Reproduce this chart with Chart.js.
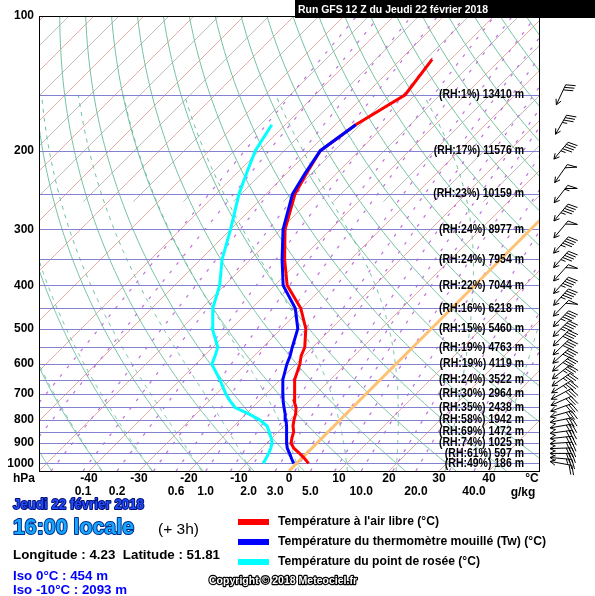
<!DOCTYPE html>
<html lang="fr">
<head>
<meta charset="UTF-8">
<title>Sondage GFS</title>
<script src="https://cdn.jsdelivr.net/npm/chart.js"></script>
<style>
  body { margin: 0; background: #fff; }
</style>
</head>
<body>
<canvas id="skewt" width="595" height="596"></canvas>
<script>
// niveaux de pression (hPa) et profils (°C)
const levels   = [1000, 975, 950, 925, 900, 875, 850, 825, 800, 775, 750, 725, 700, 650, 600, 575, 550, 500, 450, 400, 350, 300, 250, 225, 200, 175, 150, 125];
const tempAir  = [2.4, 0.6, -1.4, -3.6, -5.2, -6.1, -6.9, -8.2, -9.2, -10.1, -11.3, -13.0, -14.3, -17.1, -19.2, -20.6, -21.6, -25.1, -30.2, -37.5, -43.2, -49.1, -54.2, -56.0, -57.8, -55.9, -52.0, -53.7];
const tempWet  = [-0.6, -2.0, -3.4, -4.9, -6.1, -7.2, -8.3, -9.5, -10.8, -12.2, -13.7, -15.2, -16.6, -19.5, -21.8, -22.8, -24.1, -26.7, -31.3, -38.3, -43.7, -49.5, -54.7, -56.3, -57.8, -55.9, null, null];
const tempDew  = [-6.7, -7.1, -7.6, -8.2, -9.0, -10.3, -11.8, -13.4, -16.0, -19.5, -23.5, -25.8, -28.0, -32.1, -36.8, -37.8, -39.0, -43.8, -47.8, -51.0, -55.7, -60.0, -65.4, -68.0, -70.8, -72.7, null, null];

// étiquettes à droite
const rhLevels  = [150, 200, 250, 300, 350, 400, 450, 500, 550, 600, 650, 700, 750, 800, 850, 900, 950, 1000];
const rhValues  = [1, 17, 23, 24, 24, 22, 16, 15, 19, 19, 24, 30, 35, 58, 69, 74, 61, 49];
const heights   = [13410, 11576, 10159, 8977, 7954, 7044, 6218, 5460, 4763, 4119, 3522, 2964, 2438, 1942, 1472, 1025, 597, 186];

// vent (direction en degrés, vitesse en noeuds)
const windLevels = [1000, 975, 950, 925, 900, 875, 850, 825, 800, 775, 750, 725, 700, 675, 650, 625, 600, 575, 550, 525, 500, 475, 450, 425, 400, 375, 350, 325, 300, 275, 250, 225, 200, 175, 150];
const windDir    = [100, 95, 90, 88, 86, 84, 82, 80, 78, 74, 70, 66, 62, 58, 55, 52, 50, 48, 46, 45, 45, 44, 44, 42, 42, 42, 42, 42, 40, 40, 38, 35, 40, 30, 25];
const windSpeed  = [20, 25, 30, 30, 30, 30, 30, 30, 30, 30, 30, 30, 30, 35, 35, 35, 40, 40, 40, 40, 45, 45, 50, 45, 45, 50, 45, 45, 50, 45, 55, 50, 45, 35, 30];

// axes
const pressureTicks = [100, 200, 300, 400, 500, 600, 700, 800, 900, 1000];
const isobars = [150, 200, 250, 300, 350, 400, 450, 500, 550, 600, 650, 700, 750, 800, 850, 900, 950, 1000];
const tempTicks = [-40, -30, -20, -10, 0, 10, 20, 30, 40];
const mixTicks = [0.1, 0.2, 0.6, 1.0, 2.0, 3.0, 5.0, 10.0, 20.0, 40.0];
const mixLines = [0.01, 0.02, 0.05, 0.1, 0.2, 0.4, 0.6, 1, 1.5, 2, 3, 4, 5, 7, 10, 15, 20, 30, 40];

const P_TOP = 100, P_BOT = 1040;
const X_MIN = -50, X_MAX = 50;
const PAD = { left: 39, right: 56, top: 16, bottom: 125 };
const SKEW = ((596 - PAD.top - PAD.bottom) / Math.log10(P_BOT / P_TOP)) /
             ((595 - PAD.left - PAD.right) / (X_MAX - X_MIN));
const FONT = '"Liberation Sans", Arial, sans-serif';

function skewX(t, p) { return t + SKEW * Math.log10(P_BOT / p); }

function toPoints(values) {
  return levels.map((p, i) => values[i] == null ? null : { x: skewX(values[i], p), y: p }).filter(Boolean);
}

function satVap(t) { return 6.112 * Math.exp(17.67 * t / (t + 243.5)); }

function dewFromMix(w, p) {
  const e = w * p / (622 + w);
  const l = Math.log(e / 6.112);
  return 243.5 * l / (17.67 - l);
}

function moistLapse(tk, p) {
  const Rd = 287.04, cp = 1005.7, Lv = 2.501e6, eps = 0.622;
  const es = satVap(tk - 273.15);
  const rs = eps * es / (p - es);
  return ((Rd * tk + Lv * rs) / p) / (cp + (Lv * Lv * rs * eps) / (Rd * tk * tk));
}

function moistCurve(tw, pEnd) {
  const pts = [];
  let tk = tw + 273.15;
  for (let p = 1000; p <= P_BOT; p += 2) { pts.unshift([tk - 273.15, p]); tk += moistLapse(tk, p) * 2; }
  tk = tw + 273.15;
  for (let p = 1000; p >= pEnd; p -= 2) {
    if (p < 1000) pts.push([tk - 273.15, p]);
    const k1 = moistLapse(tk, p);
    const k2 = moistLapse(tk - k1, p - 2);
    tk -= (k1 + k2);
  }
  return pts;
}

const pSteps = [];
for (let p = P_BOT; p >= P_TOP; p -= 5) pSteps.push(p);
if (pSteps[pSteps.length - 1] !== P_TOP) pSteps.push(P_TOP);

const gridPlugin = {
  id: 'grid',
  beforeDatasetsDraw(chart) {
    const { ctx, chartArea: a, scales: { x, y } } = chart;
    const pt = (t, p) => [x.getPixelForValue(skewX(t, p)), y.getPixelForValue(p)];
    const path = (list) => {
      ctx.beginPath();
      list.forEach(([t, p], i) => { const [px, py] = pt(t, p); i ? ctx.lineTo(px, py) : ctx.moveTo(px, py); });
      ctx.stroke();
    };
    ctx.save();
    ctx.beginPath();
    ctx.rect(a.left, a.top, a.right - a.left, a.bottom - a.top);
    ctx.clip();
    ctx.lineWidth = 1;

    // isothermes
    for (let t = -150; t <= 50; t += 5) {
      if (t % 10 === 0) {
        ctx.strokeStyle = '#e6aca4';
        path([[t, P_BOT], [t, P_TOP]]);
      } else {
        ctx.strokeStyle = '#bdbdbd';
        path([[t, 260], [t, P_TOP]]);
      }
    }

    // adiabatiques sèches
    ctx.strokeStyle = '#74c2a2';
    for (let th = -60; th <= 200; th += 10) {
      path(pSteps.map(p => [(th + 273.15) * Math.pow(p / 1000, 0.2857) - 273.15, p]));
    }

    // adiabatiques saturées
    ctx.setLineDash([4, 5]);
    ctx.strokeStyle = '#66bc98';
    for (let tw = -40; tw <= 40; tw += 10) path(moistCurve(tw, 150));

    // rapport de mélange
    ctx.setLineDash([3, 8]);
    ctx.lineWidth = 1.2;
    ctx.strokeStyle = '#c070e0';
    mixLines.forEach(w => path(pSteps.map(p => [dewFromMix(w, p), p])));
    ctx.setLineDash([]);
    ctx.lineWidth = 1;

    // isobares
    ctx.strokeStyle = '#8282d0';
    isobars.forEach(p => {
      const py = Math.round(y.getPixelForValue(p)) + 0.5;
      ctx.beginPath(); ctx.moveTo(a.left, py); ctx.lineTo(a.right, py); ctx.stroke();
    });

    // isotherme 0°C
    ctx.strokeStyle = '#ffc070';
    ctx.lineWidth = 3;
    path([[0, P_BOT], [0, P_TOP]]);
    ctx.restore();
  }
};

function fitText(ctx, txt, x, y, w, font, fill, stroke, strokeW) {
  ctx.save();
  ctx.font = font;
  ctx.textBaseline = 'middle';
  ctx.textAlign = 'left';
  const m = ctx.measureText(txt).width;
  ctx.translate(x, y);
  ctx.scale(w / m, 1);
  if (stroke) {
    ctx.lineJoin = 'round';
    ctx.lineWidth = strokeW;
    ctx.strokeStyle = stroke;
    ctx.strokeText(txt, 0, 0);
  }
  ctx.fillStyle = fill;
  ctx.fillText(txt, 0, 0);
  ctx.restore();
}

function drawBarb(ctx, cx, cy, dir, spd) {
  const L = 22, rad = (dir + 180) * Math.PI / 180;
  const ux = Math.sin(rad), uy = -Math.cos(rad);
  const hx = cx + ux * L / 2, hy = cy + uy * L / 2;
  const tx = cx - ux * L / 2, ty = cy - uy * L / 2;
  const rot = (vx, vy, deg) => {
    const r = deg * Math.PI / 180;
    return [vx * Math.cos(r) - vy * Math.sin(r), vx * Math.sin(r) + vy * Math.cos(r)];
  };
  ctx.beginPath();
  ctx.moveTo(tx, ty); ctx.lineTo(hx, hy);
  [28, -28].forEach(d => {
    const [ax, ay] = rot(-ux, -uy, d);
    ctx.moveTo(hx, hy); ctx.lineTo(hx + ax * 6, hy + ay * 6);
  });
  const [bx, by] = rot(-ux, -uy, 70);
  let s = Math.round(spd / 5) * 5, pos = 0;
  while (s >= 50) {
    const x0 = tx + ux * pos, y0 = ty + uy * pos;
    ctx.moveTo(x0, y0);
    ctx.lineTo(x0 + bx * 10, y0 + by * 10);
    ctx.lineTo(tx + ux * (pos + 4), ty + uy * (pos + 4));
    pos += 5; s -= 50;
  }
  while (s >= 10) {
    const x0 = tx + ux * pos, y0 = ty + uy * pos;
    ctx.moveTo(x0, y0); ctx.lineTo(x0 + bx * 10, y0 + by * 10);
    pos += 2.8; s -= 10;
  }
  if (s >= 5) {
    const x0 = tx + ux * pos, y0 = ty + uy * pos;
    ctx.moveTo(x0, y0); ctx.lineTo(x0 + bx * 5, y0 + by * 5);
  }
  ctx.stroke();
}

const framePlugin = {
  id: 'frame',
  afterDatasetsDraw(chart) {
    const { ctx, chartArea: a, scales: { x, y } } = chart;
    ctx.save();
    // cadre
    ctx.strokeStyle = '#000';
    ctx.lineWidth = 1;
    ctx.strokeRect(Math.round(a.left) + 0.5, Math.round(a.top) + 0.5, Math.round(a.right - a.left), Math.round(a.bottom - a.top));

    // pression
    ctx.fillStyle = '#000';
    ctx.font = 'bold 12px ' + FONT;
    ctx.textAlign = 'right';
    ctx.textBaseline = 'middle';
    pressureTicks.forEach(p => ctx.fillText(String(p), a.left - 5, y.getPixelForValue(p)));

    // température
    ctx.textAlign = 'center';
    tempTicks.forEach(t => ctx.fillText(String(t), x.getPixelForValue(t), a.bottom + 8));
    ctx.fillText('°C', 532, a.bottom + 8);
    ctx.textAlign = 'left';
    ctx.fillText('hPa', 13, a.bottom + 8);
    ctx.textAlign = 'center';
    mixTicks.forEach(w => ctx.fillText(w.toFixed(1), x.getPixelForValue(dewFromMix(w, P_BOT)), a.bottom + 21));
    ctx.fillText('g/kg', 523, a.bottom + 22);

    // humidité et altitude
    ctx.font = 'bold 12px ' + FONT;
    const k = 85 / ctx.measureText('(RH:24%) 8977 m').width;
    rhLevels.forEach((p, i) => {
      const txt = '(RH:' + rhValues[i] + '%) ' + heights[i] + ' m';
      const w = ctx.measureText(txt).width * k;
      fitText(ctx, txt, 524 - w, y.getPixelForValue(p), w, 'bold 12px ' + FONT, '#000');
    });

    // vent
    ctx.strokeStyle = '#000';
    ctx.lineWidth = 1;
    windLevels.forEach((p, i) => drawBarb(ctx, 561, y.getPixelForValue(p), windDir[i], windSpeed[i]));

    // titre
    ctx.fillStyle = '#000';
    ctx.fillRect(295, 0, 300, 18);
    fitText(ctx, 'Run GFS 12 Z du Jeudi 22 février 2018', 298, 9.5, 190, 'bold 11px ' + FONT, '#fff');

    // pied
    fitText(ctx, 'Jeudi 22 février 2018', 13, 505, 131, 'bold 14px ' + FONT, '#1f4dff', '#000c6e', 2);
    fitText(ctx, '16:00 locale', 13, 528, 121, 'bold 22px ' + FONT, '#14a8ff', '#002a8a', 2);
    fitText(ctx, '(+ 3h)', 158, 530, 41, '15px ' + FONT, '#000');
    fitText(ctx, 'Longitude : 4.23  Latitude : 51.81', 13, 556, 207, 'bold 12px ' + FONT, '#000');
    fitText(ctx, 'Iso 0°C : 454 m', 13, 576, 95, 'bold 13px ' + FONT, '#0000ff');
    fitText(ctx, 'Iso -10°C : 2093 m', 13, 590, 114, 'bold 13px ' + FONT, '#0000ff');
    fitText(ctx, 'Copyright © 2018 Meteociel.fr', 209, 581, 148, 'bold 11px ' + FONT, '#fff', '#000', 2.5);

    // légende
    const legend = [
      ['#ff0000', 'Température à l\'air libre (°C)', 161],
      ['#0000ff', 'Température du thermomètre mouillé (Tw) (°C)', 268],
      ['#00ffff', 'Température du point de rosée (°C)', 202]
    ];
    legend.forEach(([c, txt, w], i) => {
      const ly = 522 + i * 20;
      ctx.fillStyle = c;
      ctx.fillRect(238, ly - 3, 31, 6);
      fitText(ctx, txt, 278, ly, w, 'bold 12px ' + FONT, '#000');
    });
    ctx.restore();
  }
};

const ctx = document.getElementById('skewt').getContext('2d');
new Chart(ctx, {
  type: 'scatter',
  data: {
    datasets: [
      { label: 'Température à l\'air libre (°C)', data: toPoints(tempAir), borderColor: '#ff0000', borderWidth: 3, showLine: true, pointRadius: 0, order: 3 },
      { label: 'Température du thermomètre mouillé (Tw) (°C)', data: toPoints(tempWet), borderColor: '#0000ff', borderWidth: 3, showLine: true, pointRadius: 0, order: 1 },
      { label: 'Température du point de rosée (°C)', data: toPoints(tempDew), borderColor: '#00ffff', borderWidth: 3, showLine: true, pointRadius: 0, order: 2 }
    ]
  },
  options: {
    responsive: false,
    animation: false,
    devicePixelRatio: 1,
    layout: { padding: PAD },
    scales: {
      x: { type: 'linear', min: X_MIN, max: X_MAX, display: false },
      y: { type: 'logarithmic', min: P_TOP, max: P_BOT, reverse: true, display: false }
    },
    plugins: { legend: { display: false }, tooltip: { enabled: false } }
  },
  plugins: [gridPlugin, framePlugin]
});
</script>
</body>
</html>
